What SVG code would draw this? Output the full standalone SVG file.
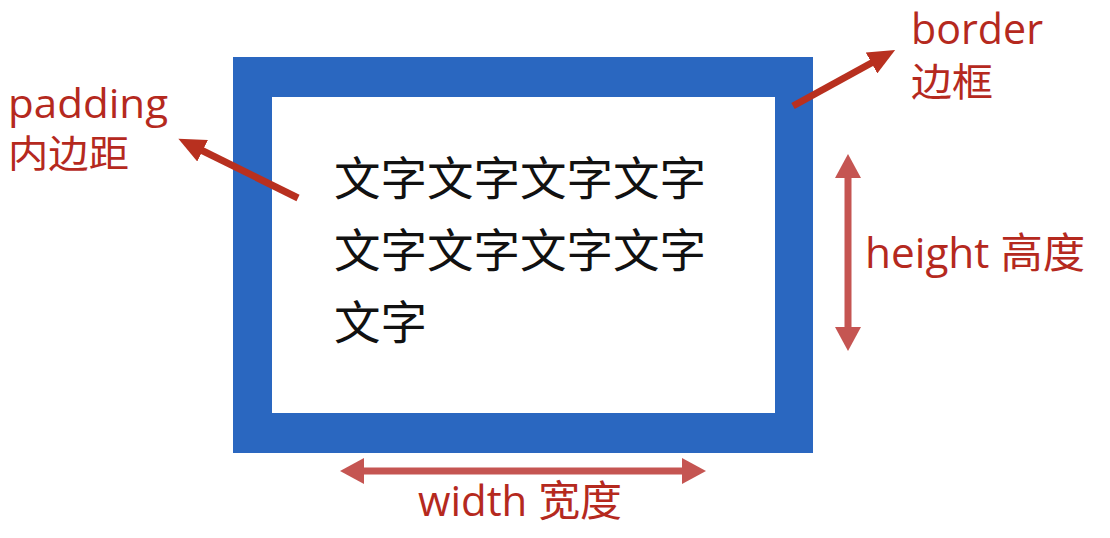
<svg xmlns="http://www.w3.org/2000/svg" width="1110" height="538" viewBox="0 0 1110 538">
  <style>
    .lbl { font-family: "Open Sans", "Noto Sans", "Noto Sans CJK SC", sans-serif; fill: #b5291e; }
    .body { font-family: "Noto Sans CJK SC", "Noto Sans CJK JP", sans-serif; fill: #111111; font-size: 46px; }
    .dark { stroke: #b8301f; stroke-width: 7; fill: none; }
    .soft { stroke: #c55552; stroke-width: 7; fill: none; }
  </style>
  <defs>
    <marker id="hDark" markerUnits="userSpaceOnUse" markerWidth="28" markerHeight="24" refX="4" refY="12" orient="auto">
      <path d="M0,0 L27,12 L0,24 z" fill="#b8301f"/>
    </marker>
    <marker id="hSoft" markerUnits="userSpaceOnUse" markerWidth="26" markerHeight="26" refX="4" refY="13" orient="auto-start-reverse">
      <path d="M0,0 L24,13 L0,26 z" fill="#c55552"/>
    </marker>
  </defs>
  <rect width="1110" height="538" fill="#ffffff"/>

  <g id="box">
    <rect x="233" y="57" width="580" height="396" fill="#2a67c0"/>
    <rect x="272" y="97" width="503" height="316" fill="#ffffff"/>
  </g>

  <g id="content">
    <text class="body" x="334" y="195" textLength="372" lengthAdjust="spacingAndGlyphs">文字文字文字文字</text>
    <text class="body" x="334" y="267" textLength="372" lengthAdjust="spacingAndGlyphs">文字文字文字文字</text>
    <text class="body" x="334" y="339" textLength="93" lengthAdjust="spacingAndGlyphs">文字</text>
  </g>

  <g id="padding-label">
    <text class="lbl" x="8" y="118" font-size="41" textLength="160" lengthAdjust="spacingAndGlyphs">padding</text>
    <text class="lbl" x="8" y="167" font-size="38" textLength="121" lengthAdjust="spacingAndGlyphs">内边距</text>
  </g>

  <g id="border-label">
    <text class="lbl" x="911" y="44" font-size="42" textLength="132" lengthAdjust="spacingAndGlyphs">border</text>
    <text class="lbl" x="911" y="96" font-size="39" textLength="82" lengthAdjust="spacingAndGlyphs">边框</text>
  </g>

  <g id="height-label">
    <text class="lbl" x="865" y="268" font-size="42" textLength="220" lengthAdjust="spacingAndGlyphs">height 高度</text>
  </g>

  <g id="width-label">
    <text class="lbl" x="418" y="516" font-size="42" textLength="204" lengthAdjust="spacingAndGlyphs">width 宽度</text>
  </g>

  <g id="connectors">
    <line class="dark" x1="298" y1="198" x2="199" y2="149" marker-end="url(#hDark)"/>
    <line class="dark" x1="793" y1="106" x2="875" y2="61" marker-end="url(#hDark)"/>
    <line class="soft" x1="848" y1="174" x2="848" y2="331" marker-start="url(#hSoft)" marker-end="url(#hSoft)"/>
    <line class="soft" x1="360" y1="471" x2="686" y2="471" marker-start="url(#hSoft)" marker-end="url(#hSoft)"/>
  </g>
</svg>
